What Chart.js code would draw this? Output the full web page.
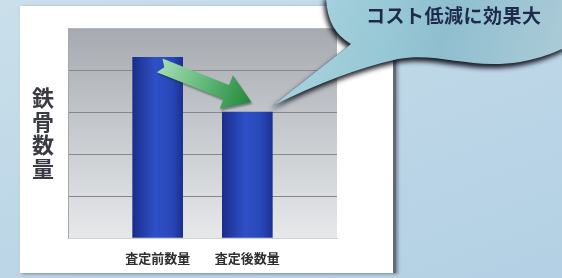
<!DOCTYPE html>
<html>
<head>
<meta charset="utf-8">
<script src="https://cdn.jsdelivr.net/npm/chart.js@4"></script>
<style>
  html, body { margin:0; padding:0; width:562px; height:278px; overflow:hidden; }
  body { position:relative; background: linear-gradient(160deg, #cadfea 0%, #bcd6e7 55%, #b3d0e4 100%); font-family: "Noto Sans CJK JP", sans-serif; }
  #panel { position:absolute; left:20px; top:6px; width:373px; height:267px; background:#ffffff;
           border-right:3px solid #626a78; box-shadow: 2px 1px 3px rgba(40,50,70,0.45); }
  #chart { position:absolute; left:0; top:0; }
  #ylabel { position:absolute; left:31px; top:87px; writing-mode:vertical-rl; font-size:22px; font-weight:bold;
            color:#3a3a45; letter-spacing:1.5px; line-height:24px; }
  #bubbleText { position:absolute; left:366px; top:1px; font-size:19px; font-weight:bold; color:#1d2a4c; letter-spacing:0.5px; }
</style>
</head>
<body>
<div id="panel"></div>
<canvas id="chart" width="562" height="278"></canvas>
<div id="ylabel">鉄骨数量</div>
<div id="bubbleText">コスト低減に効果大</div>
<script>
// ---- data ----
const categories = ['', '査定前数量', '査定後数量', ''];
const steelQuantity = [null, 4.3, 3.0, null];
const yTickValues = [0, 1, 2, 3, 4, 5];

const plotBgPlugin = {
  id: 'plotBg',
  beforeDraw(chart) {
    const {ctx, chartArea: a} = chart;
    const g = ctx.createLinearGradient(0, a.top, 0, a.bottom);
    g.addColorStop(0, '#a6aab0');
    g.addColorStop(0.45, '#c4c7cb');
    g.addColorStop(1, '#e6e8ea');
    ctx.save();
    ctx.fillStyle = g;
    ctx.fillRect(a.left, a.top, a.right - a.left, a.bottom - a.top);
    ctx.restore();
  }
};

const decoPlugin = {
  id: 'deco',
  afterDraw(chart) {
    const {ctx} = chart;
    const x = chart.scales.x, y = chart.scales.y;
    // arrow from top of first bar toward top of second bar
    const x1 = x.getPixelForValue(1), y1 = y.getPixelForValue(steelQuantity[1]);
    const x2 = x.getPixelForValue(2), y2 = y.getPixelForValue(steelQuantity[2]);
    const sx = x1 + 2, sy = y1 + 8, ex = x2 + 4, ey = y2 - 10;
    const dx = ex - sx, dy = ey - sy, L = Math.hypot(dx, dy);
    const ux = dx / L, uy = dy / L, nx = -uy, ny = ux;
    const hw = 7.5, headW = 18, headL = 27, notch = 5;
    const P = (a, b) => [sx + ux * a + nx * b, sy + uy * a + ny * b];
    const pts = [P(0, -hw), P(L - headL, -hw), P(L - headL, -headW), P(L, 0),
                 P(L - headL, headW), P(L - headL, hw), P(0, hw), P(notch, 0)];
    ctx.save();
    ctx.shadowColor = 'rgba(20,40,20,0.45)';
    ctx.shadowBlur = 2; ctx.shadowOffsetX = 1; ctx.shadowOffsetY = 2;
    const ag = ctx.createLinearGradient(sx, sy, ex, ey);
    ag.addColorStop(0, '#a6dcb4');
    ag.addColorStop(0.5, '#5fb877');
    ag.addColorStop(1, '#23873a');
    ctx.fillStyle = ag;
    ctx.beginPath();
    pts.forEach((p, i) => i ? ctx.lineTo(p[0], p[1]) : ctx.moveTo(p[0], p[1]));
    ctx.closePath();
    ctx.fill();
    ctx.restore();

    // speech bubble (top right) with tail pointing at the lower bar
    const bubble = () => {
      ctx.beginPath();
      ctx.moveTo(326, -5);
      ctx.quadraticCurveTo(326, 30, 351, 44);
      ctx.lineTo(x2 + 25, y2 - 6);
      ctx.quadraticCurveTo(340, 72, 398, 59);
      ctx.bezierCurveTo(440, 52, 470, 70, 520, 62);
      ctx.quadraticCurveTo(548, 57, 568, 46);
      ctx.lineTo(568, -5);
      ctx.closePath();
    };
    ctx.save();
    bubble();
    ctx.shadowColor = 'rgba(5,5,15,0.9)';
    ctx.shadowBlur = 5; ctx.shadowOffsetX = -2; ctx.shadowOffsetY = 4;
    ctx.fillStyle = '#2a2a30';
    ctx.fill();
    ctx.restore();
    ctx.save();
    bubble();
    const bg = ctx.createLinearGradient(330, 0, 562, 60);
    bg.addColorStop(0, '#a2d0dc');
    bg.addColorStop(0.5, '#8fbfcf');
    bg.addColorStop(1, '#abcad7');
    ctx.fillStyle = bg;
    ctx.fill();
    ctx.restore();
  }
};

function barGradient(c) {
  const chart = c.chart;
  if (!chart.chartArea || !chart.scales.x) return '#2440b0';
  const cx = chart.scales.x.getPixelForValue(c.dataIndex);
  const g = chart.ctx.createLinearGradient(cx - 25, 0, cx + 25, 0);
  g.addColorStop(0, '#1a2d8c');
  g.addColorStop(0.45, '#2e50c6');
  g.addColorStop(0.8, '#2846b8');
  g.addColorStop(1, '#1b308f');
  return g;
}

new Chart(document.getElementById('chart'), {
  type: 'bar',
  data: {
    labels: categories,
    datasets: [{ data: steelQuantity, backgroundColor: barGradient, borderWidth: 0, barThickness: 50 }]
  },
  options: {
    responsive: false,
    devicePixelRatio: 1,
    animation: false,
    layout: { padding: { left: 68, right: 225, top: 28, bottom: 0 } },
    plugins: { legend: { display: false }, tooltip: { enabled: false } },
    scales: {
      x: {
        offset: false,
        grid: { display: false, drawTicks: false },
        border: { display: true, color: '#cfd1d4' },
        ticks: { padding: 12, color: '#2e2e2e', autoSkip: false, maxRotation: 0,
                 font: { family: '"Noto Sans CJK JP", sans-serif', size: 13, weight: 'bold' } },
        afterFit(s) { s.height = 40; }
      },
      y: {
        min: 0, max: 5,
        afterBuildTicks(s) { s.ticks = yTickValues.map(v => ({ value: v })); },
        ticks: { display: false },
        grid: { drawTicks: false,
                color: c => c.tick.value === 0 ? 'rgba(0,0,0,0)' : (c.tick.value === 5 ? '#b4b7bc' : '#85888e') },
        border: { display: true, color: '#a4a7ac' },
        afterFit(s) { s.width = 0; }
      }
    }
  },
  plugins: [plotBgPlugin, decoPlugin]
});
</script>
</body>
</html>
